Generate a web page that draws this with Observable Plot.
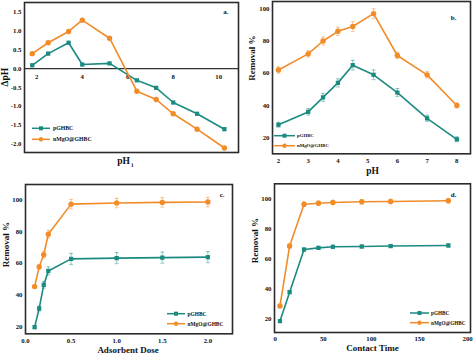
<!DOCTYPE html>
<html>
<head>
<meta charset="utf-8">
<script src="https://cdn.jsdelivr.net/npm/d3@7"></script>
<script src="https://cdn.jsdelivr.net/npm/@observablehq/plot@0.6"></script>
<style>
  html, body { margin: 0; padding: 0; background: #fff; }
  #fig { position: relative; width: 474px; height: 354px; overflow: hidden; background: #fff; }
  #fig svg { position: absolute; left: 0; top: 0; }
</style>
</head>
<body>
<div id="fig"></div>
<script>
// ---------- data ----------
const seriesNames = ["pGHBC", "nMgO@GHBC"];
const seriesColors = ["#1b8a80", "#f28c28"];
const seriesSymbols = ["square", "circle"];

// (a) point of zero charge
const pHiA = [1.8, 2.5, 3.4, 4.0, 5.2, 6.4, 7.25, 8.0, 9.05, 10.25];
const dpH_pG = [0.09, 0.40, 0.69, 0.11, 0.14, -0.31, -0.51, -0.90, -1.20, -1.61];
const dpH_nM = [0.40, 0.69, 0.99, 1.29, 0.81, -0.60, -0.82, -1.20, -1.61, -2.11];
const xTicksA = [2, 4, 6, 8, 10];
const yTicksA = [-2.0, -1.5, -1.0, -0.5, 0.0, 0.5, 1.0, 1.5];

// (b) effect of pH
const pHB = [2, 3, 3.5, 4, 4.5, 5.2, 6, 7, 8];
const remB_pG = [28, 36, 45, 54, 65, 59, 48, 32, 19];
const remB_nM = [62, 72, 80, 86, 89, 97, 71, 59, 40];
const errB_pG = [1.5, 2, 2.5, 2.5, 3, 3, 2.5, 2, 1.5];
const errB_nM = [2, 2, 2.5, 2.5, 3, 3, 2, 2, 1.5];
const xTicksB = [2, 3, 4, 5, 6, 7, 8];
const yTicksB = [20, 40, 60, 80, 100];

// (c) adsorbent dose
const doseC = [0.1, 0.15, 0.2, 0.25, 0.5, 1.0, 1.5, 2.0];
const remC_pG = [19.6, 31.4, 46.3, 55.1, 62.7, 63.2, 63.5, 63.8];
const remC_nM = [45.2, 57.7, 65.3, 78.3, 97.3, 98.0, 98.4, 98.6];
const errC_pG = [1, 1.5, 2, 2.5, 3.5, 3.5, 3.5, 3.5];
const errC_nM = [1, 1.5, 2, 2.5, 3, 3, 3, 3];
const xTicksC = [0.0, 0.5, 1.0, 1.5, 2.0];
const yTicksC = [20, 40, 60, 80, 100];

// (d) contact time
const timeD = [5, 15, 30, 45, 60, 90, 120, 180];
const remD_pG = [18.5, 37.8, 66.2, 67.3, 68.0, 68.2, 68.5, 68.9];
const remD_nM = [28.6, 68.5, 96.4, 97.0, 97.5, 98.0, 98.2, 98.7];
const errD_pG = [0.8, 1, 1, 1, 1, 1, 1, 1];
const errD_nM = [1, 1.5, 1.5, 1.5, 1.5, 1.5, 1.5, 1.5];
const xTicksD = [0, 50, 100, 150, 200];
const yTicksD = [20, 40, 60, 80, 100];

// ---------- helpers ----------
const W = 474, H = 354;
const SERIF = "'Liberation Serif', 'Times New Roman', serif";
const fig = document.getElementById("fig");

function series(xs, ys, es) {
  return xs.map((x, i) => ({x, y: ys[i], e: es ? es[i] : 0}));
}
const capSymbol = {
  draw(ctx, size) { const w = Math.sqrt(size) / 2; ctx.moveTo(-w, 0); ctx.lineTo(w, 0); }
};
function seriesMarks(data, k, withErr) {
  const c = seriesColors[k];
  const m = [];
  if (withErr) {
    m.push(Plot.ruleX(data, {x: "x", y1: d => d.y - d.e, y2: d => d.y + d.e, stroke: c, strokeWidth: 0.8, strokeOpacity: 0.6}));
    m.push(Plot.dot(data, {x: "x", y: d => d.y + d.e, symbol: capSymbol, r: 2.2, stroke: c, strokeWidth: 0.8, strokeOpacity: 0.6, fill: "none"}));
    m.push(Plot.dot(data, {x: "x", y: d => d.y - d.e, symbol: capSymbol, r: 2.2, stroke: c, strokeWidth: 0.8, strokeOpacity: 0.6, fill: "none"}));
  }
  m.push(Plot.line(data, {x: "x", y: "y", stroke: c, strokeWidth: 1.6}));
  m.push(Plot.dot(data, {x: "x", y: "y", fill: c, stroke: "none", symbol: seriesSymbols[k], r: k === 0 ? 2.4 : 2.7}));
  return m;
}
function ttl(str, opts) {
  return Plot.text([str], {text: d => d, fontFamily: SERIF, fontWeight: "bold", fill: "#111", ...opts});
}
function panel(frame, xOpt, yOpt, marks) {
  const [x0, y0, x1, y1] = frame;
  const svg = Plot.plot({
    width: W, height: H,
    marginLeft: x0, marginTop: y0, marginRight: W - x1, marginBottom: H - y1,
    style: {background: "transparent", fontFamily: SERIF, fontWeight: "bold", fontSize: "6.8px", color: "#111", overflow: "visible", maxWidth: "none"},
    x: {label: null, tickSize: 0, tickPadding: 4, ...xOpt},
    y: {label: null, tickSize: 0, tickPadding: 3, ...yOpt},
    marks: [...marks, Plot.frame({stroke: "#2b2b2b", strokeWidth: 1.6})]
  });
  fig.appendChild(svg);
}
function legend(xLine0, xLine1, xText, rows, fontSize) {
  const s = d3.select(fig).append("svg")
    .attr("width", W).attr("height", H)
    .style("position", "absolute").style("left", 0).style("top", 0).style("overflow", "visible");
  seriesNames.forEach((name, k) => {
    const y = rows[k];
    const c = seriesColors[k];
    s.append("line").attr("x1", xLine0).attr("x2", xLine1).attr("y1", y).attr("y2", y)
      .attr("stroke", c).attr("stroke-width", 1.5);
    const xm = (xLine0 + xLine1) / 2;
    if (k === 0) s.append("rect").attr("x", xm - 2).attr("y", y - 2).attr("width", 4).attr("height", 4).attr("fill", c);
    else s.append("circle").attr("cx", xm).attr("cy", y).attr("r", 2.2).attr("fill", c);
    s.append("text").attr("x", xText).attr("y", y).attr("dy", "0.35em")
      .attr("font-family", SERIF).attr("font-weight", "bold").attr("font-size", fontSize)
      .attr("fill", "#111").text(name);
  });
}
const intFmt = d => String(d);
const oneDec = d => d.toFixed(1);

// ---------- (a) ----------
panel([24, 2, 238, 152],
  {domain: [1.46, 10.87], axis: null},
  {domain: [-2.23, 1.76], ticks: yTicksA, tickFormat: oneDec},
  [
    Plot.ruleY([0], {stroke: "#333", strokeWidth: 1.4}),
    Plot.text(xTicksA, {x: d => d, y: 0, dy: 8, text: intFmt, fontFamily: SERIF, fontWeight: "bold", fontSize: 6.8, fill: "#111"}),
    ...seriesMarks(series(pHiA, dpH_pG), 0, false),
    ...seriesMarks(series(pHiA, dpH_nM), 1, false),
    ttl("ΔpH", {frameAnchor: "left", dx: -20, dy: 9, rotate: -90, fontSize: 9.5}),
    ttl("pH", {frameAnchor: "bottom", dx: -8, dy: 11, fontSize: 9.5}),
    ttl("i", {frameAnchor: "bottom", dx: 0.8, dy: 14, fontSize: 6}),
    ttl("a.", {frameAnchor: "top-right", dx: -10, dy: 7, fontSize: 7})
  ]);
legend(32, 50, 53, [128.3, 139.3], 5.8);

// ---------- (b) ----------
panel([272, 1, 470, 153.3],
  {domain: [1.8, 8.46], ticks: xTicksB, tickFormat: intFmt},
  {domain: [10, 104.5], ticks: yTicksB, tickFormat: intFmt},
  [
    ...seriesMarks(series(pHB, remB_pG, errB_pG), 0, true),
    ...seriesMarks(series(pHB, remB_nM, errB_nM), 1, true),
    ttl("Removal %", {frameAnchor: "left", dx: -20, dy: 3, rotate: -90, fontSize: 9}),
    ttl("pH", {frameAnchor: "bottom", dx: 1, dy: 20, fontSize: 9.5}),
    ttl("b.", {frameAnchor: "top-right", dx: -14, dy: 14, fontSize: 7})
  ]);
legend(274, 295, 297, [135.7, 145.7], 4.8);

// ---------- (c) ----------
panel([25, 184, 232, 333.3],
  {domain: [0, 2.27], ticks: xTicksC, tickFormat: oneDec},
  {domain: [15.4, 109.7], ticks: yTicksC, tickFormat: intFmt},
  [
    ...seriesMarks(series(doseC, remC_pG, errC_pG), 0, true),
    ...seriesMarks(series(doseC, remC_nM, errC_nM), 1, true),
    ttl("Removal %", {frameAnchor: "left", dx: -19, dy: 8, rotate: -90, fontSize: 9}),
    ttl("Adsorbent Dose", {frameAnchor: "bottom", dx: -1, dy: 19, fontSize: 9}),
    ttl("c.", {frameAnchor: "top-right", dx: -8, dy: 8, fontSize: 7})
  ]);
legend(167, 185, 187.5, [313.7, 323.7], 5.4);

// ---------- (d) ----------
panel([274, 183.3, 470, 332],
  {domain: [-0.7, 203], ticks: xTicksD, tickFormat: intFmt},
  {domain: [10.9, 110], ticks: yTicksD, tickFormat: intFmt},
  [
    ...seriesMarks(series(timeD, remD_pG, errD_pG), 0, true),
    ...seriesMarks(series(timeD, remD_nM, errD_nM), 1, true),
    ttl("Removal %", {frameAnchor: "left", dx: -19, dy: 5, rotate: -90, fontSize: 9}),
    ttl("Contact Time", {frameAnchor: "bottom", dx: 0, dy: 18, fontSize: 9}),
    ttl("d.", {frameAnchor: "top-right", dx: -14, dy: 8, fontSize: 7})
  ]);
legend(410, 429, 431, [313, 322.7], 5.2);
</script>
</body>
</html>
